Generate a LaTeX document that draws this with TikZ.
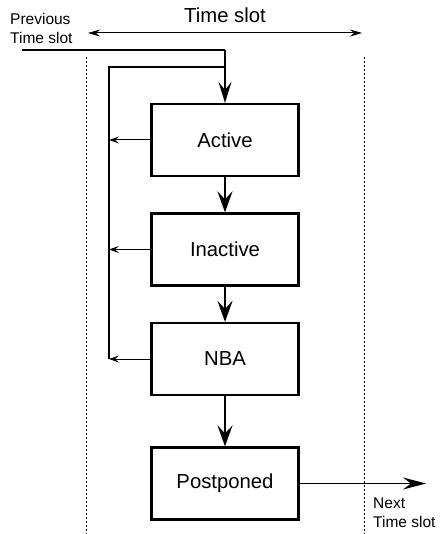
\documentclass[tikz,border=0pt]{standalone}
\usepackage{fontspec}
\setmainfont{Liberation Sans}
\usetikzlibrary{arrows.meta}
\begin{document}
\begin{tikzpicture}[x=1pt,y=-1pt,
  box/.style={draw,line width=2.2pt,minimum width=147pt,minimum height=72pt,inner sep=0pt,font=\fontsize{20.3}{24}\selectfont},
  bigarrow/.style={line width=2.6pt,-{Stealth[length=21pt,width=15pt,inset=8pt]}},
  smallarrow/.style={line width=1pt,-{Stealth[length=10pt,width=7pt,inset=4pt]}},
  lbl/.style={font=\fontsize{15.5}{18}\selectfont,inner sep=0pt,anchor=base west},
  guide/.style={line width=0.8pt,dash pattern=on 2pt off 2pt}]
\useasboundingbox (0,0) rectangle (441,534);
% boxes
\node[box] (active) at (225,140) {Active};
\node[box] (inactive) at (225,249.5) {Inactive};
\node[box] (nba) at (225,359) {NBA};
\node[box] (post) at (225,483.5) {Postponed};
% texts
\node[font=\fontsize{20.3}{24}\selectfont,inner sep=0pt,anchor=base] (title) at (225,23) {Time slot};
\node[lbl] (prev1) at (10,25) {Previous};
\node[lbl] (prev2) at (10,44) {Time slot};
\node[lbl] (next1) at (373,508) {Next};
\node[lbl] (next2) at (373,527) {Time slot};
% guides
\coordinate (gl1) at (86,57); \coordinate (gl2) at (86,534);
\coordinate (gr1) at (364,57); \coordinate (gr2) at (364,534);
\draw[guide] (gl1) -- (gl2);
\draw[guide] (gr1) -- (gr2);
% time slot span
\coordinate (span1) at (88,33); \coordinate (span2) at (362,33);
\draw[line width=1pt,{Stealth[length=12pt,width=7pt,inset=4pt]}-{Stealth[length=12pt,width=7pt,inset=4pt]}] (span1) -- (span2);
% previous time slot input
\coordinate (pstart) at (22,50);
\coordinate (pcorner) at (225,50);
\draw[line width=1.3pt] (pstart) -- (pcorner);
\draw[line width=1.6pt,-{Stealth[length=21pt,width=13pt,inset=8pt]}] (pcorner) -- (active.north);
% loop
\coordinate (ltop) at (225,67);
\coordinate (lcorner) at (109,67);
\coordinate (lbot) at (109,359);
\draw[line width=1.7pt] (ltop) -- (lcorner) -- (lbot);
\draw[smallarrow] (active.west) -- (active.west -| lcorner);
\draw[smallarrow] (inactive.west) -- (inactive.west -| lcorner);
\draw[smallarrow] (nba.west) -- (nba.west -| lcorner);
% main flow
\draw[bigarrow] (active.south) -- (inactive.north);
\draw[bigarrow] (inactive.south) -- (nba.north);
\draw[bigarrow] (nba.south) -- (post.north);
% output
\coordinate (nextend) at (426,483.5);
\draw[line width=1.3pt,-{Stealth[length=23pt,width=12pt,inset=8pt]}] (post.east) -- (nextend);
\end{tikzpicture}
\end{document}
